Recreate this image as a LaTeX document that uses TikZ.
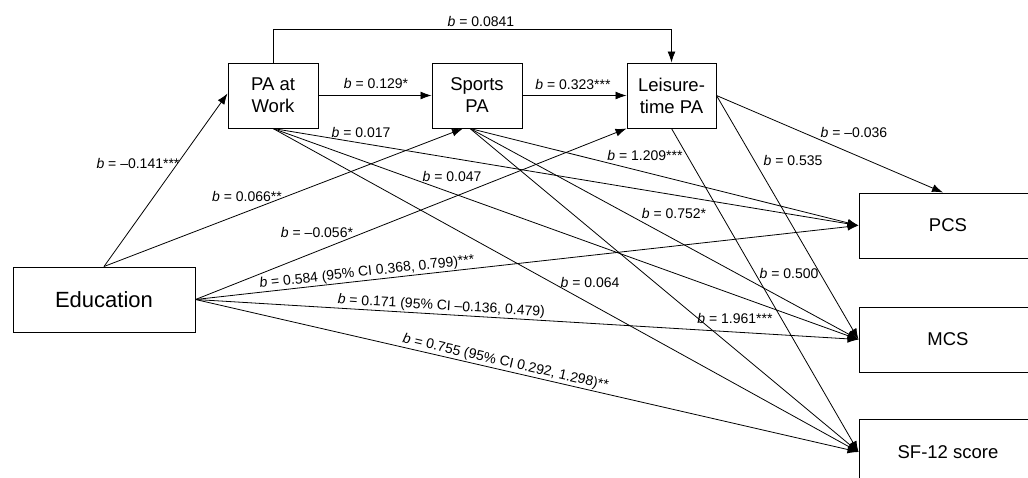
\documentclass[tikz,border=0pt]{standalone}
\usepackage{fontspec}
\setmainfont{Liberation Sans}
\usetikzlibrary{arrows.meta}
\tikzset{
  var/.style={draw, line width=1pt, align=center, inner sep=0pt, minimum height=65pt, font=\fontsize{18.5}{22}\selectfont},
  path/.style={line width=0.8pt, -{Latex[length=11pt,width=8pt]}},
  coef/.style={font=\fontsize{14}{16}\selectfont, inner sep=1pt},
}
\begin{document}
\begin{tikzpicture}[x=1pt,y=-1pt]
\useasboundingbox (0,0) rectangle (1028,477);

\node[var, minimum width=182pt, font=\fontsize{22}{26}\selectfont] (edu) at (104,299.5) {Education};
\node[var, minimum width=90pt] (work) at (273,95.5) {PA at\\Work};
\node[var, minimum width=90pt] (sport) at (477,95.5) {Sports\\PA};
\node[var, minimum width=89pt] (leis) at (671.5,95.5) {Leisure-\\time PA};
\node[var, minimum width=178pt] (pcs) at (948,225.5) {PCS};
\node[var, minimum width=178pt] (mcs) at (948,339.5) {MCS};
\node[var, minimum width=178pt] (sf) at (948,452) {SF-12 score};

\draw[path] (work.east) -- (sport.west);
\draw[path] (sport.east) -- (leis.west);
\draw[path] (work.north) -- ++(0,-33) -| (leis.north);
\draw[path] (edu.north) -- ([yshift=2pt]work.west);
\draw[path] (edu.north) -- ([xshift=-14pt]sport.south);
\draw[path] (edu.east) -- (leis.south west);
\draw[path] (edu.east) -- node[coef, sloped, above, pos=0.26] (c584) {\textit{b} = 0.584 (95\% CI 0.368, 0.799)***} (pcs.west);
\draw[path] (edu.east) -- node[coef, sloped, above, pos=0.37] (c171) {\textit{b} = 0.171 (95\% CI --0.136, 0.479)} (mcs.west);
\draw[path] (edu.east) -- node[coef, sloped, above, pos=0.465] (c755) {\textit{b} = 0.755 (95\% CI 0.292, 1.298)**} (sf.west);
\draw[path] (work.south) -- (pcs.west);
\draw[path] (work.south) -- (mcs.west);
\draw[path] (work.south) -- (sf.west);
\draw[path] ([xshift=-7pt]sport.south) -- (pcs.west);
\draw[path] ([xshift=-7pt]sport.south) -- (mcs.west);
\draw[path] ([xshift=-7pt]sport.south) -- (sf.west);
\draw[path] (leis.east) -- ([xshift=-5pt]pcs.north);
\draw[path] (leis.east) -- (mcs.west);
\draw[path] (leis.south) -- (sf.west);

\node[coef] (c0841) at (481,21) {\textit{b} = 0.0841};
\node[coef] (c129) at (376,83) {\textit{b} = 0.129*};
\node[coef] (c323) at (573,84) {\textit{b} = 0.323***};
\node[coef] (c141) at (138,163) {\textit{b} = --0.141***};
\node[coef] (c017) at (361,132) {\textit{b} = 0.017};
\node[coef] (c047) at (452,176) {\textit{b} = 0.047};
\node[coef] (c066) at (247,196) {\textit{b} = 0.066**};
\node[coef] (c056) at (317,232) {\textit{b} = --0.056*};
\node[coef] (c209) at (645,155) {\textit{b} = 1.209***};
\node[coef] (c535) at (793,160) {\textit{b} = 0.535};
\node[coef] (c036) at (854,132) {\textit{b} = --0.036};
\node[coef] (c752) at (674,213) {\textit{b} = 0.752*};
\node[coef] (c064) at (590,282) {\textit{b} = 0.064};
\node[coef] (c500) at (789,273) {\textit{b} = 0.500};
\node[coef] (c961) at (735,318) {\textit{b} = 1.961***};
\end{tikzpicture}
\end{document}
